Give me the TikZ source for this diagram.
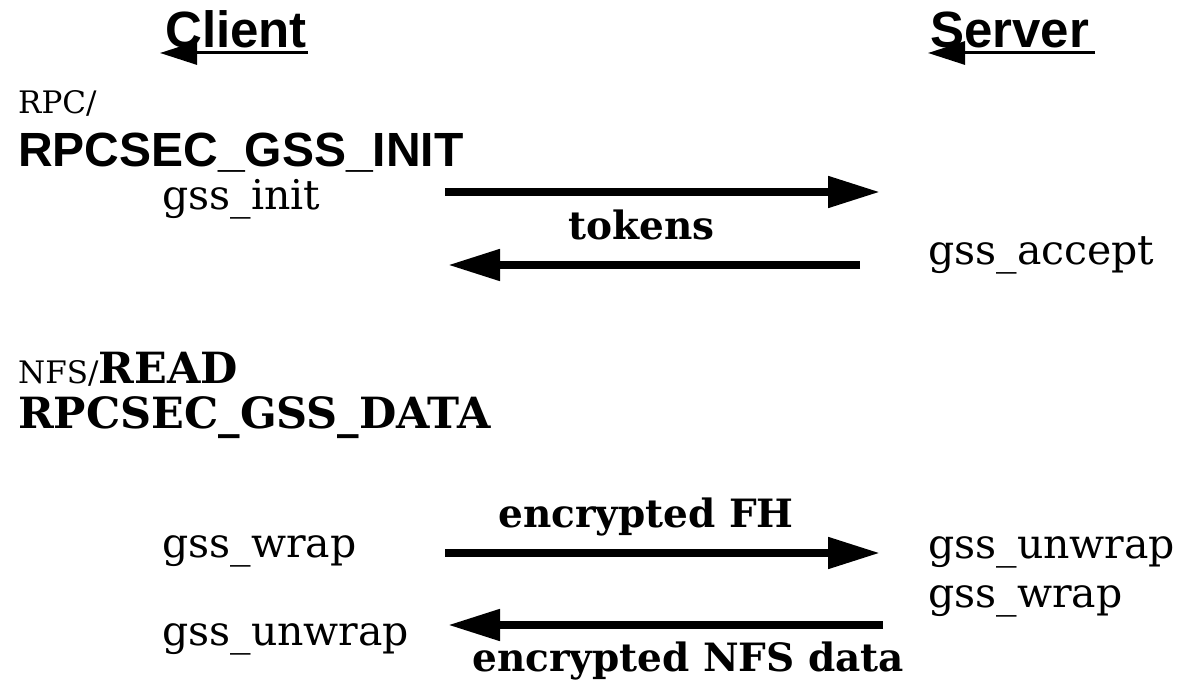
\documentclass[tikz,border=0pt]{standalone}
\usepackage{fontspec}
\setmainfont{DejaVu Serif}
\newfontfamily\hsans{Liberation Sans}
\usetikzlibrary{arrows.meta}

\tikzset{
  lbl/.style={inner sep=0pt, anchor=base west, font=\fontsize{41}{46}\selectfont},
  msg/.style={inner sep=0pt, anchor=base west, font=\fontsize{39}{43}\selectfont\bfseries},
  callname/.style={inner sep=0pt, anchor=base west, font=\fontsize{43}{48}\selectfont\bfseries},
  side/.style={inner sep=0pt, anchor=base west, font=\fontsize{51}{56}\selectfont\hsans\bfseries},
  small/.style={inner sep=0pt, anchor=base west, font=\fontsize{31}{34}\selectfont},
  bigarrow/.style={line width=8pt, -{Triangle[length=52pt,width=30pt]}},
  ularrow/.style={line width=3pt, -{Triangle[length=37pt,width=23pt]}}
}

\begin{document}
\begin{tikzpicture}[x=1pt,y=-1pt]
  \useasboundingbox (0,0) rectangle (1191,684);

  % headings
  \node[side] (client) at (165,48) {Client};
  \node[side] (server) at (930,48) {Server};
  \coordinate (cl1) at (308,53);
  \coordinate (cl2) at (160,53);
  \coordinate (sv1) at (1095,53);
  \coordinate (sv2) at (928,53);
  \draw[ularrow] (cl1) -- (cl2);
  \draw[ularrow] (sv1) -- (sv2);

  % context setup
  \node[small] (rpc) at (18,114) {RPC/};
  \node[side, font=\fontsize{48}{52}\selectfont\hsans\bfseries] (init) at (18,167) {RPCSEC\_GSS\_INIT};
  \node[lbl] (gssinit) at (162,210) {gss\_init};
  \node[lbl] (gssaccept) at (928,265) {gss\_accept};
  \node[msg] (tokens) at (568,240) {tokens};
  \coordinate (t1s) at (445,192);
  \coordinate (t1e) at (880,192);
  \coordinate (t2s) at (860,265);
  \coordinate (t2e) at (448,265);
  \draw[bigarrow] (t1s) -- (t1e);
  \draw[bigarrow] (t2s) -- (t2e);

  % data exchange
  \node[small] (nfs) at (18,384) {NFS/};
  \node[callname] (read) at (nfs.base east) {READ};
  \node[callname] (data) at (18,428) {RPCSEC\_GSS\_DATA};
  \node[lbl] (wrapc) at (162,557) {gss\_wrap};
  \node[lbl] (unwrapc) at (162,645) {gss\_unwrap};
  \node[lbl] (unwraps) at (928,558) {gss\_unwrap};
  \node[lbl] (wraps) at (928,607) {gss\_wrap};
  \node[msg] (encfh) at (498,527) {encrypted FH};
  \node[msg] (encnfs) at (472,671) {encrypted NFS data};
  \coordinate (d1s) at (445,553);
  \coordinate (d1e) at (880,553);
  \coordinate (d2s) at (883,625);
  \coordinate (d2e) at (448,625);
  \draw[bigarrow] (d1s) -- (d1e);
  \draw[bigarrow] (d2s) -- (d2e);
\end{tikzpicture}
\end{document}
